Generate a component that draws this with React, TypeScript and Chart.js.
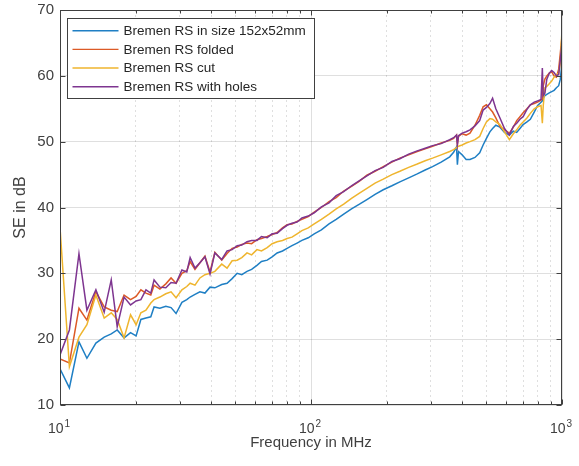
import React, { useEffect, useRef } from "react";
import { Chart, registerables } from "chart.js";

Chart.register(...registerables);

const FONT = '"Liberation Sans", Arial, Helvetica, sans-serif';

const seriesLabels = [
  "Bremen RS in size 152x52mm",
  "Bremen RS folded",
  "Bremen RS cut",
  "Bremen RS with holes",
];
const seriesColors = ["#1f7fc4", "#dc5a26", "#efb52e", "#7e3590"];

// frequency in MHz
const freqs = [
  10, 10.9, 11.9, 12.8, 13.9, 15.0, 16.0, 16.9, 18.0, 19.1,
  20.1, 21.0, 22.0, 23.0, 23.7, 25.0, 26.4, 27.7, 29.0, 30.6,
  32.0, 33.0, 34.5, 36.1, 37.8, 39.6, 41.4, 44.1, 46.3, 48.5,
  50.8, 53.0, 55.6, 58.0, 60.9, 63.5, 66.9, 70.0, 73.3, 77.0,
  80.3, 84.0, 88.0, 92.0, 97.5, 103, 110, 118, 126, 135,
  145, 156, 167, 180, 194, 210, 226, 245, 265, 285,
  305, 330, 357, 370, 380, 383, 387, 400, 415, 430,
  450, 470, 485, 500, 516, 529, 545, 566, 590, 617,
  640, 660, 680, 700, 725, 748, 775, 800, 825, 835,
  842, 855, 870, 890, 910, 930, 950, 970, 985, 1000,
];

const seSize = [
  15.5, 12.6, 19.6, 17.1, 19.4, 20.3, 20.8, 21.4, 20.2, 21.0,
  20.5, 23.0, 23.2, 23.4, 24.9, 24.7, 25.0, 24.8, 23.9, 25.6,
  26.0, 26.4, 26.8, 27.2, 27.0, 27.9, 27.8, 28.3, 28.5, 29.2,
  30.0, 29.8, 30.3, 30.6, 31.2, 31.8, 32.0, 32.5, 33.1, 33.4,
  33.8, 34.2, 34.6, 35.0, 35.4, 36.0, 36.6, 37.5, 38.2, 39.0,
  39.8, 40.5, 41.2, 42.0, 42.7, 43.3, 43.9, 44.5, 45.1, 45.7,
  46.2, 46.9, 47.7, 48.4, 49.2, 46.5, 48.5, 48.0, 47.3, 47.3,
  47.6, 48.3, 49.5, 50.5, 51.5, 52.0, 52.5, 52.2, 51.4, 51.0,
  51.6, 51.4, 52.0, 52.6, 53.0, 53.4, 54.5, 55.5, 56.0, 56.2,
  56.6, 57.0, 57.2, 57.4, 57.6, 57.8, 58.2, 58.5, 59.5, 62.0,
];

const seFolded = [
  17.0, 16.4, 24.7, 22.9, 27.2, 24.9, 24.4, 24.2, 26.7, 26.0,
  26.5, 27.5, 27.0, 26.7, 28.2, 27.6, 28.4, 29.3, 28.5, 30.0,
  30.4, 31.8, 30.6, 31.6, 32.6, 30.2, 33.2, 32.0, 33.0, 33.8,
  34.0, 34.4, 34.6, 34.5, 35.1, 35.3, 35.6, 35.9, 36.2, 36.9,
  37.4, 37.5, 37.9, 38.2, 38.6, 39.3, 40.0, 40.9, 41.5, 42.5,
  43.2, 44.0, 44.9, 45.5, 46.2, 46.9, 47.5, 48.0, 48.5, 48.9,
  49.3, 49.8, 50.2, 50.5, 51.0, 49.5, 50.8, 51.2, 51.0, 51.3,
  52.5, 54.0, 55.3, 55.6, 55.0, 54.5, 53.6, 52.3, 51.8, 51.3,
  52.2, 53.2, 53.8, 54.4, 55.0, 55.6, 55.8, 56.0, 56.3, 56.5,
  58.5, 59.5, 60.0, 60.4, 60.6, 60.0, 59.8, 61.0, 63.5, 66.0,
];

const seCut = [
  37.0, 15.8, 20.3, 22.2, 26.7, 23.2, 24.0, 23.0, 20.2, 23.7,
  22.2, 24.0, 24.4, 25.5, 26.0, 26.4, 26.9, 27.2, 26.3, 27.5,
  28.0, 28.5, 28.2, 29.3, 29.8, 30.0, 30.3, 31.4, 30.8, 31.9,
  32.0, 32.4, 33.1, 32.8, 33.6, 33.4, 33.9, 34.5, 34.8, 35.0,
  35.3, 35.5, 36.0, 36.5, 36.9, 37.5, 38.2, 39.0, 39.8, 40.5,
  41.4, 42.2, 42.9, 43.7, 44.3, 45.0, 45.5, 46.1, 46.6, 47.1,
  47.5, 48.0, 48.5, 48.8, 49.1, 49.2, 49.3, 49.5, 49.8, 50.0,
  50.3, 50.8, 52.0, 53.0, 53.5, 53.4, 53.0, 52.6, 51.5, 50.3,
  51.2, 51.8, 52.5, 53.0, 53.6, 54.3, 55.0, 55.3, 55.5, 52.8,
  55.5, 58.2, 58.4, 58.8, 59.2, 59.8, 60.2, 60.4, 62.0, 67.0,
];

const seHoles = [
  17.6, 21.4, 33.0, 24.4, 27.5, 24.1, 29.0, 21.9, 26.4, 25.2,
  25.8, 26.0, 27.5, 27.0, 29.0, 27.9, 27.8, 28.6, 28.5, 30.5,
  30.2, 32.4, 30.8, 31.6, 32.5, 29.9, 33.1, 32.1, 33.4, 33.6,
  34.2, 34.3, 34.8, 35.0, 35.0, 35.6, 35.4, 36.0, 36.1, 36.8,
  37.3, 37.6, 37.8, 38.4, 38.7, 39.2, 40.1, 40.7, 41.8, 42.4,
  43.3, 44.1, 44.8, 45.6, 46.1, 47.0, 47.4, 48.1, 48.6, 49.0,
  49.4, 49.7, 50.3, 50.6, 51.0, 49.6, 50.9, 51.3, 51.5, 51.8,
  52.4, 53.2, 54.8, 55.2, 55.8, 56.6, 55.0, 53.6, 52.0, 51.0,
  52.3, 52.8, 53.4, 53.8, 54.9, 55.6, 56.0, 56.2, 56.4, 61.2,
  57.0, 57.4, 59.5, 60.4, 60.8, 60.5, 60.0, 60.2, 62.5, 65.0,
];

const seriesValues = [seSize, seFolded, seCut, seHoles];

const xTickValues = [10, 20, 30, 40, 50, 60, 70, 80, 90, 100, 200, 300, 400, 500, 600, 700, 800, 900, 1000];
// decade labels: base 10 with these exponents
const xDecadeExponents: Record<number, string> = { 10: "1", 100: "2", 1000: "3" };
const yTickValues = [10, 20, 30, 40, 50, 60, 70];

const AXIS_COLOR = "#404040";
const GRID_COLOR = "rgba(38,38,38,0.15)";

const framePlugin = {
  id: "frame",
  afterDatasetsDraw(chart: any) {
    const { ctx, chartArea, scales } = chart;
    const { left, top, right, bottom } = chartArea;
    const xs = scales.x;
    const ys = scales.y;
    ctx.save();
    ctx.strokeStyle = AXIS_COLOR;
    ctx.lineWidth = 1;
    const L = Math.round(left) + 0.5;
    const R = Math.round(right) - 0.5;
    const T = Math.round(top) + 0.5;
    const B = Math.round(bottom) - 0.5;
    ctx.strokeRect(L, T, R - L, B - T);
    ctx.beginPath();
    yTickValues.forEach((v) => {
      const py = Math.round(ys.getPixelForValue(v)) + 0.5;
      ctx.moveTo(L, py);
      ctx.lineTo(L + 5, py);
      ctx.moveTo(R, py);
      ctx.lineTo(R - 5, py);
    });
    xTickValues.forEach((v) => {
      const px = Math.round(xs.getPixelForValue(v)) + 0.5;
      const len = xDecadeExponents[v] ? 5 : 3;
      ctx.moveTo(px, B);
      ctx.lineTo(px, B - len);
      ctx.moveTo(px, T);
      ctx.lineTo(px, T + len);
    });
    ctx.stroke();

    // decade tick labels 10^n
    ctx.fillStyle = AXIS_COLOR;
    ctx.textBaseline = "alphabetic";
    ctx.textAlign = "left";
    xTickValues.forEach((v) => {
      const exp = xDecadeExponents[v];
      if (!exp) return;
      const px = xs.getPixelForValue(v);
      ctx.font = `14px ${FONT}`;
      const wBase = ctx.measureText("10").width;
      ctx.font = `10px ${FONT}`;
      const wExp = ctx.measureText(exp).width;
      const x0 = px - (wBase + 1 + wExp) / 2 - 1;
      ctx.font = `14px ${FONT}`;
      ctx.fillText("10", x0, bottom + 28);
      ctx.font = `10px ${FONT}`;
      ctx.fillText(exp, x0 + wBase + 1, bottom + 22);
    });

    // legend box
    const bx = Math.round(left) + 7.5;
    const by = Math.round(top) + 8.5;
    const bw = 247;
    const bh = 80;
    ctx.fillStyle = "#ffffff";
    ctx.fillRect(bx, by, bw, bh);
    ctx.strokeStyle = AXIS_COLOR;
    ctx.lineWidth = 1;
    ctx.strokeRect(bx, by, bw, bh);
    ctx.font = `13.5px ${FONT}`;
    ctx.textBaseline = "middle";
    ctx.textAlign = "left";
    chart.data.datasets.forEach((ds: any, i: number) => {
      const ry = by + 12.2 + i * 18.67;
      ctx.strokeStyle = ds.borderColor;
      ctx.lineWidth = 1.4;
      ctx.beginPath();
      ctx.moveTo(bx + 5, ry);
      ctx.lineTo(bx + 51, ry);
      ctx.stroke();
      ctx.fillStyle = "#262626";
      ctx.fillText(ds.label, bx + 56, ry + 0.5);
    });
    ctx.restore();
  },
};

export default function App() {
  const ref = useRef<HTMLCanvasElement>(null);

  useEffect(() => {
    document.body.style.margin = "0";
    const datasets = seriesLabels.map((label, i) => ({
      label,
      data: freqs.map((f, j) => ({ x: f, y: seriesValues[i][j] })),
      borderColor: seriesColors[i],
      backgroundColor: seriesColors[i],
      borderWidth: 1.5,
      pointRadius: 0,
      tension: 0,
      fill: false,
      order: 4 - i,
    }));

    const chart = new Chart(ref.current as HTMLCanvasElement, {
      type: "line",
      data: { datasets },
      options: {
        animation: false,
        responsive: false,
        devicePixelRatio: 1,
        layout: { padding: { top: 10, right: 17, left: 0, bottom: 0 } },
        plugins: {
          legend: { display: false },
          tooltip: { enabled: false },
        },
        scales: {
          x: {
            type: "logarithmic",
            min: 10,
            max: 1000,
            afterBuildTicks: (s: any) => {
              s.ticks = xTickValues.map((v) => ({ value: v }));
            },
            afterFit: (s: any) => {
              s.height = 61;
              s.paddingLeft = 0;
              s.paddingRight = 0;
            },
            ticks: {
              autoSkip: false,
              maxRotation: 0,
              minRotation: 0,
              padding: 11,
              color: AXIS_COLOR,
              font: { family: FONT, size: 14 },
              callback: () => "",
            },
            grid: { color: GRID_COLOR, lineWidth: 1, drawTicks: false },
            border: {
              display: false,
              dash: (ctx: any) => (ctx.tick && xDecadeExponents[ctx.tick.value] ? [] : [2, 3]),
            },
            title: {
              display: true,
              text: "Frequency in MHz",
              color: AXIS_COLOR,
              font: { family: FONT, size: 15 },
              padding: { top: 0, bottom: 14 },
            },
          },
          y: {
            type: "linear",
            min: 10,
            max: 70,
            afterBuildTicks: (s: any) => {
              s.ticks = yTickValues.map((v) => ({ value: v }));
            },
            afterFit: (s: any) => {
              s.width = 60;
              s.paddingTop = 0;
              s.paddingBottom = 0;
            },
            ticks: {
              padding: 6,
              color: AXIS_COLOR,
              font: { family: FONT, size: 15 },
            },
            grid: { color: GRID_COLOR, lineWidth: 1, drawTicks: false },
            border: { display: false },
            title: {
              display: true,
              text: "SE in dB",
              color: AXIS_COLOR,
              font: { family: FONT, size: 16 },
              padding: { top: 11, bottom: 0 },
            },
          },
        },
      },
      plugins: [framePlugin],
    } as any);

    return () => chart.destroy();
  }, []);

  return (
    <div style={{ width: 579, height: 466, background: "#ffffff" }}>
      <canvas ref={ref} width={579} height={466} style={{ display: "block", width: 579, height: 466 }} />
    </div>
  );
}
